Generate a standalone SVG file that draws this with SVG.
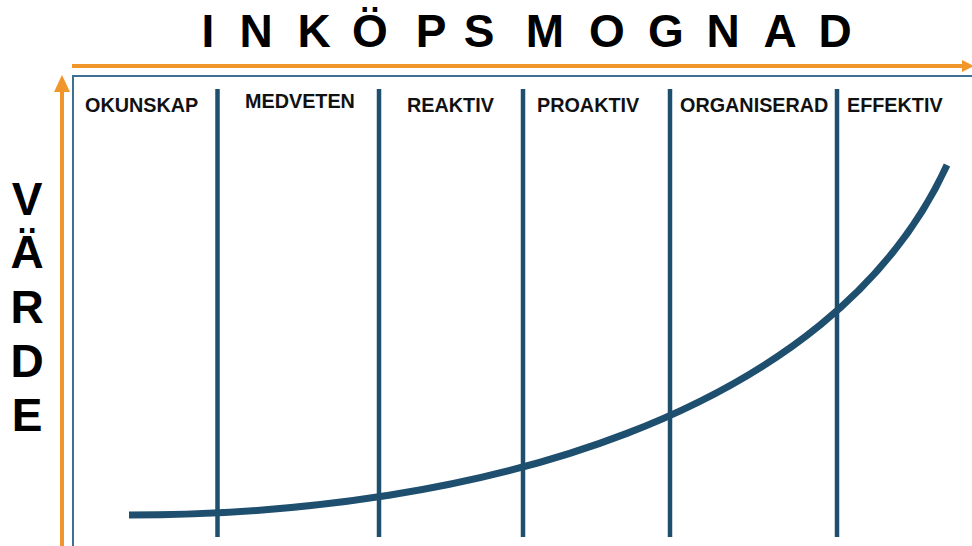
<svg xmlns="http://www.w3.org/2000/svg" width="972" height="546" viewBox="0 0 972 546">
  <style>
    .title { font-family: "Liberation Sans", Arial, sans-serif; font-weight: bold; font-size: 46px; fill: #000; text-anchor: middle; }
    .stage { font-family: "Liberation Sans", Arial, sans-serif; font-weight: bold; font-size: 19.8px; fill: #111; }
    .axis { stroke: #F0962A; stroke-width: 4; fill: none; }
    .divider { stroke: #1E4F6F; stroke-width: 4.5; }
    .curve { stroke: #1E4F6F; stroke-width: 7; fill: none; }
  </style>
  <defs>
    <marker id="axisHead" markerWidth="3" markerHeight="3" refX="1.5" refY="1.5" orient="auto" markerUnits="strokeWidth">
      <path d="M0,0 L3,1.5 L0,3 Z" fill="#F0962A"/>
    </marker>
  </defs>

  <rect width="972" height="546" fill="#fff"/>

  <!-- axis titles -->
  <g id="title-x">
    <text class="title" y="47">
      <tspan x="208">I</tspan><tspan x="256">N</tspan><tspan x="314">K</tspan><tspan x="370">Ö</tspan><tspan x="431">P</tspan><tspan x="479">S</tspan><tspan x="545">M</tspan><tspan x="607">O</tspan><tspan x="666">G</tspan><tspan x="723">N</tspan><tspan x="780">A</tspan><tspan x="835">D</tspan>
    </text>
  </g>
  <g id="title-y">
    <text class="title" x="27" y="215">V</text>
    <text class="title" x="27" y="268">Ä</text>
    <text class="title" x="27" y="323">R</text>
    <text class="title" x="27" y="377">D</text>
    <text class="title" x="27" y="431">E</text>
  </g>

  <!-- axes and chart frame -->
  <g id="axes">
    <line class="axis" x1="72" y1="66" x2="968" y2="66" marker-end="url(#axisHead)"/>
    <line class="axis" x1="62" y1="546" x2="62" y2="92"/>
    <path d="M54,92 L62,75 L70,92 Z" fill="#F0962A"/>
    <path d="M73,546 L73,76 L972,76" stroke="#3E7096" stroke-width="2" fill="none"/>
  </g>

  <!-- stage columns -->
  <g id="stage-okunskap"><text class="stage" x="85" y="112">OKUNSKAP</text></g>
  <g id="stage-medveten"><text class="stage" x="245" y="108">MEDVETEN</text></g>
  <g id="stage-reaktiv"><text class="stage" x="407" y="112">REAKTIV</text></g>
  <g id="stage-proaktiv"><text class="stage" x="537" y="112">PROAKTIV</text></g>
  <g id="stage-organiserad"><text class="stage" x="680" y="112">ORGANISERAD</text></g>
  <g id="stage-effektiv"><text class="stage" x="847" y="112">EFFEKTIV</text></g>

  <g id="dividers">
    <line class="divider" x1="217.5" y1="89" x2="217.5" y2="537"/>
    <line class="divider" x1="379" y1="89" x2="379" y2="537"/>
    <line class="divider" x1="523" y1="89" x2="523" y2="537"/>
    <line class="divider" x1="670" y1="89" x2="670" y2="537"/>
    <line class="divider" x1="837" y1="89" x2="837" y2="537"/>
  </g>

  <!-- value curve -->
  <g id="connectors">
    <path class="curve" d="M129,515 C480,515 833,414 947,165"/>
  </g>
</svg>
